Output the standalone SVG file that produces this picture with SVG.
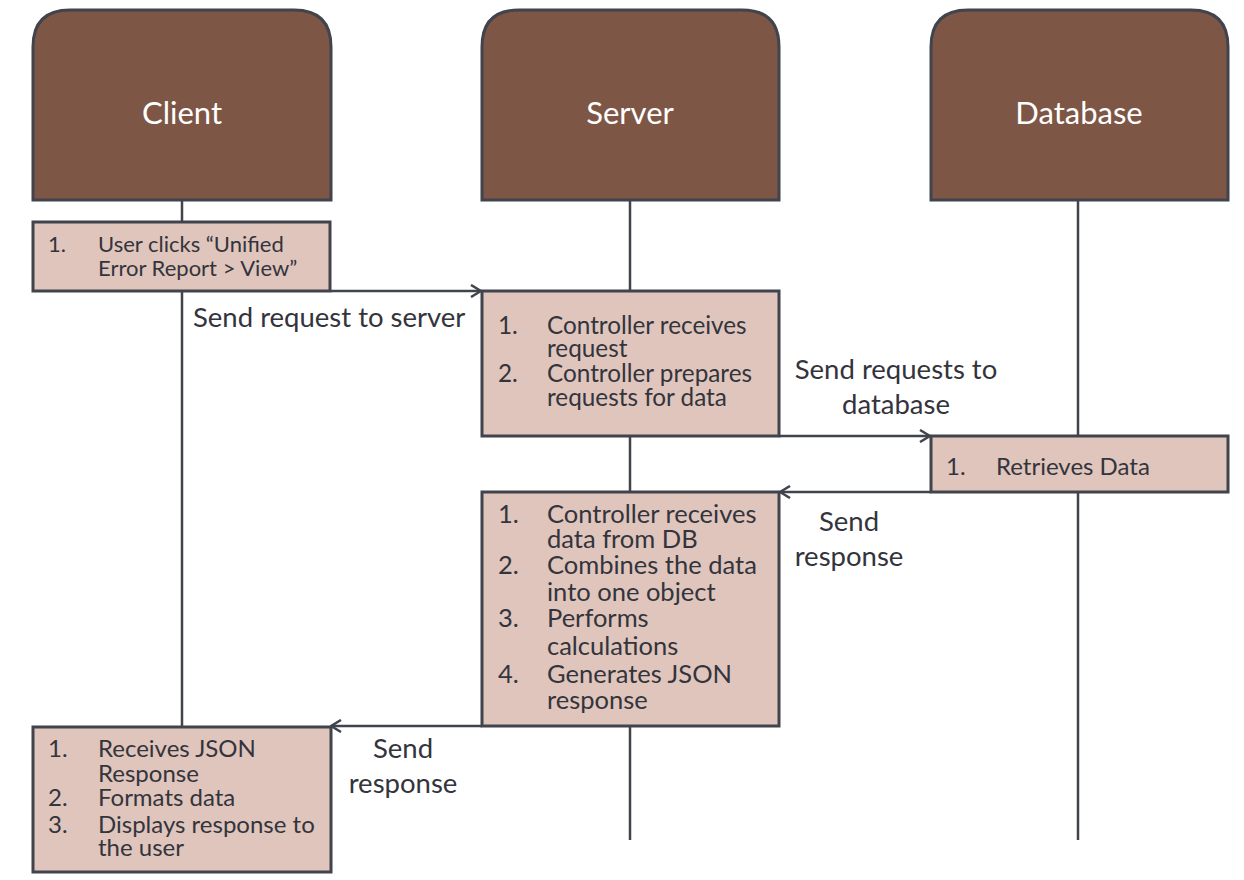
<svg xmlns="http://www.w3.org/2000/svg" width="1244" height="880" viewBox="0 0 1244 880">
<style>
.hdr{fill:#7e5646;stroke:#41434d;stroke-width:3}
.box{fill:#dfc5bc;stroke:#41434d;stroke-width:3}
.life{stroke:#41434d;stroke-width:2.5;fill:none}
.msg{stroke:#41434d;stroke-width:2.5;fill:none;marker-end:url(#arr)}
.title{font-family:Lato,"Liberation Sans",sans-serif;font-size:31px;fill:#ffffff;text-anchor:middle}
.t{font-family:Lato,"Liberation Sans",sans-serif;font-size:24px;fill:#33343c}
.s{font-size:22px}
.m{font-size:24.3px}
.b{font-size:25.5px}
.lbl{font-family:Lato,"Liberation Sans",sans-serif;font-size:27.5px;fill:#33343c}
.c{text-anchor:middle}
</style>
<defs>
<marker id="arr" viewBox="0 0 12 14" refX="11" refY="7" markerWidth="12" markerHeight="14" markerUnits="userSpaceOnUse" orient="auto">
<path d="M1,1 L11,7 L1,13" fill="none" stroke="#41434d" stroke-width="2.5"/>
</marker>
</defs>
<g id="lifelines">
<line class="life" x1="182" y1="200" x2="182" y2="727"/>
<line class="life" x1="630" y1="200" x2="630" y2="840"/>
<line class="life" x1="1078" y1="200" x2="1078" y2="840"/>
</g>
<g id="client">
<path class="hdr" d="M33,200 V47 Q33,10 70,10 H294 Q331,10 331,47 V200 Z"/>
<text class="title" x="182" y="124">Client</text>
</g>
<g id="server">
<path class="hdr" d="M482,200 V47 Q482,10 519,10 H742 Q779,10 779,47 V200 Z"/>
<text class="title" x="630" y="124">Server</text>
</g>
<g id="database">
<path class="hdr" d="M931,200 V47 Q931,10 968,10 H1191 Q1228,10 1228,47 V200 Z"/>
<text class="title" x="1079" y="124">Database</text>
</g>
<g id="client-step1">
<rect class="box" x="33" y="222" width="297" height="69"/>
<text class="t s" x="48" y="252">1.</text>
<text class="t s" x="98" y="252">User clicks “Unified</text>
<text class="t s" x="98" y="276">Error Report &gt; View”</text>
</g>
<g id="server-step1">
<rect class="box" x="482" y="291" width="297" height="145"/>
<text class="t m" x="498" y="334">1.</text>
<text class="t m" x="547" y="334">Controller receives</text>
<text class="t m" x="547" y="357">request</text>
<text class="t m" x="498" y="382">2.</text>
<text class="t m" x="547" y="382">Controller prepares</text>
<text class="t m" x="547" y="406">requests for data</text>
</g>
<g id="database-step1">
<rect class="box" x="931" y="436" width="297" height="56"/>
<text class="t" x="946" y="475">1.</text>
<text class="t" x="996" y="475">Retrieves Data</text>
</g>
<g id="server-step2">
<rect class="box" x="482" y="492" width="297" height="234"/>
<text class="t b" x="498" y="523">1.</text>
<text class="t b" x="547" y="523">Controller receives</text>
<text class="t b" x="547" y="548">data from DB</text>
<text class="t b" x="498" y="574">2.</text>
<text class="t b" x="547" y="574">Combines the data</text>
<text class="t b" x="547" y="601">into one object</text>
<text class="t b" x="498" y="627">3.</text>
<text class="t b" x="547" y="627">Performs</text>
<text class="t b" x="547" y="655">calculations</text>
<text class="t b" x="498" y="683">4.</text>
<text class="t b" x="547" y="683">Generates JSON</text>
<text class="t b" x="547" y="709">response</text>
</g>
<g id="client-step2">
<rect class="box" x="33" y="727" width="298" height="145"/>
<text class="t" x="48" y="757">1.</text>
<text class="t" x="98" y="757">Receives JSON</text>
<text class="t" x="98" y="782">Response</text>
<text class="t" x="48" y="806">2.</text>
<text class="t" x="98" y="806">Formats data</text>
<text class="t" x="48" y="833">3.</text>
<text class="t" x="98" y="833">Displays response to</text>
<text class="t" x="98" y="856">the user</text>
</g>
<g id="connectors">
<line class="msg" x1="331" y1="291" x2="481" y2="291"/>
<line class="msg" x1="779" y1="436" x2="930" y2="436"/>
<line class="msg" x1="931" y1="492" x2="780" y2="492"/>
<line class="msg" x1="482" y1="726" x2="331" y2="726"/>
<text class="lbl" x="193" y="327">Send request to server</text>
<text class="lbl c" x="896" y="379">Send requests to</text>
<text class="lbl c" x="896" y="414">database</text>
<text class="lbl c" x="849" y="531">Send</text>
<text class="lbl c" x="849" y="566">response</text>
<text class="lbl c" x="403" y="758">Send</text>
<text class="lbl c" x="403" y="793">response</text>
</g>
</svg>
